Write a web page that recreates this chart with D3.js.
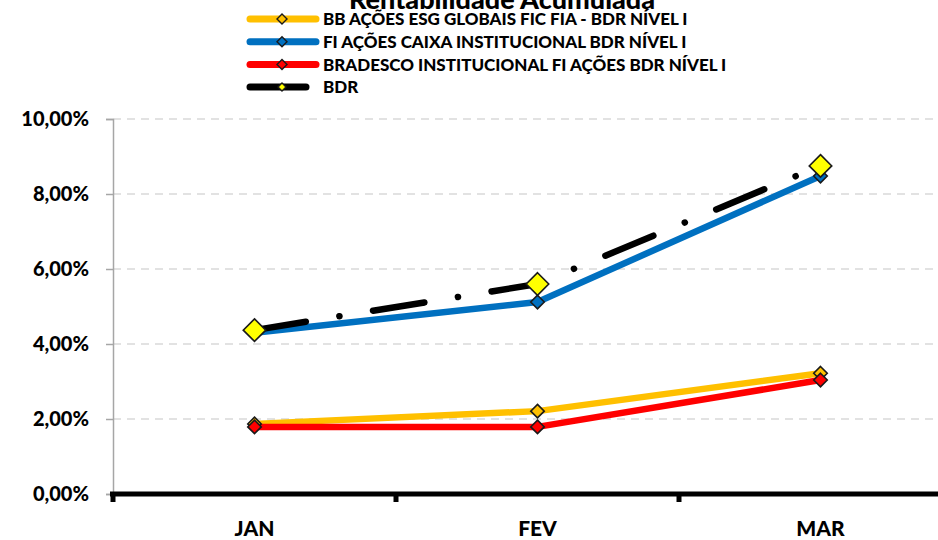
<!DOCTYPE html>
<html>
<head>
<meta charset="utf-8" />
<title>Rentabilidade Acumulada</title>
<style>
  html, body { margin: 0; padding: 0; background: #fff; }
  svg { display: block; font-family: Lato, "Liberation Sans", sans-serif; }
</style>
</head>
<body>
<svg width="938" height="540"></svg>
<script src="https://cdn.jsdelivr.net/npm/d3@7"></script>
<script>
// dados
var meses = ["JAN", "FEV", "MAR"];
var seriesNomes = [
  "BB AÇÕES ESG GLOBAIS FIC FIA - BDR NÍVEL I",
  "FI AÇÕES CAIXA INSTITUCIONAL BDR NÍVEL I",
  "BRADESCO INSTITUCIONAL FI AÇÕES BDR NÍVEL I",
  "BDR"
];
var bbEsg = [0.0187, 0.0221, 0.0322];
var caixa = [0.0430, 0.0512, 0.0848];
var bradesco = [0.0179, 0.0179, 0.0304];
var bdr = [0.0437, 0.0560, 0.0875];
var yTicks = [0, 0.02, 0.04, 0.06, 0.08, 0.10];

var series = [
  { nome: seriesNomes[0], valores: bbEsg, cor: "#FFC000", mk: "#FFC000", ms: 9 },
  { nome: seriesNomes[1], valores: caixa, cor: "#0070C0", mk: "#0070C0", ms: 9 },
  { nome: seriesNomes[2], valores: bradesco, cor: "#FF0000", mk: "#FF0000", ms: 9 },
  { nome: seriesNomes[3], valores: bdr, cor: "#000000", mk: "#FFFF00", ms: 15, dash: "52,34,0.1,34" }
];

var svg = d3.select("svg");

var x = d3.scaleBand().domain(meses).range([113, 962]);
var y = d3.scaleLinear().domain([0, 0.10]).range([494, 119]);
var fmt = function(v) { return d3.format(".2f")(v * 100).replace(".", ",") + "%"; };

// grade
svg.append("g").selectAll("line")
  .data(yTicks.slice(1))
  .enter().append("line")
  .attr("x1", 113).attr("x2", 938)
  .attr("y1", function(d) { return y(d); })
  .attr("y2", function(d) { return y(d); })
  .attr("stroke", "#d9d9d9")
  .attr("stroke-width", 1.5)
  .attr("stroke-dasharray", "8,6");

// eixo y
var yAxis = svg.append("g")
  .attr("transform", "translate(113,0)")
  .call(d3.axisLeft(y).tickValues(yTicks).tickFormat(fmt).tickSize(7).tickPadding(17));
yAxis.select(".domain").attr("stroke", "#a6a6a6").attr("stroke-width", 1.5);
yAxis.selectAll(".tick line").attr("stroke", "#a6a6a6").attr("stroke-width", 1.5);
yAxis.selectAll("text")
  .attr("font-size", 20).attr("font-weight", "900").attr("fill", "#000")
  .attr("font-family", "Lato, sans-serif");

// eixo x
var xAxis = svg.append("g")
  .attr("transform", "translate(0,494)")
  .call(d3.axisBottom(x).tickSize(0).tickPadding(27));
xAxis.select(".domain").remove();
xAxis.selectAll("text")
  .attr("font-size", 21).attr("font-weight", "900").attr("fill", "#000")
  .attr("font-family", "Lato, sans-serif");
svg.append("line")
  .attr("x1", 110).attr("x2", 938).attr("y1", 494).attr("y2", 494)
  .attr("stroke", "#000").attr("stroke-width", 5);
svg.append("g").selectAll("line")
  .data(meses)
  .enter().append("line")
  .attr("x1", function(d) { return x(d); })
  .attr("x2", function(d) { return x(d); })
  .attr("y1", 494).attr("y2", 502)
  .attr("stroke", "#000").attr("stroke-width", 5);

// linhas
var line = d3.line()
  .x(function(d, i) { return x(meses[i]) + x.bandwidth() / 2; })
  .y(function(d) { return y(d); });

var diamond = function(s) { return "M0," + (-s) + "L" + s + ",0L0," + s + "L" + (-s) + ",0Z"; };

series.forEach(function(s) {
  svg.append("path")
    .attr("d", line(s.valores))
    .attr("fill", "none")
    .attr("stroke", s.cor)
    .attr("stroke-width", 6.5)
    .attr("stroke-linecap", "round")
    .attr("stroke-linejoin", "round")
    .attr("stroke-dasharray", s.dash || null);
});
series.forEach(function(s) {
  svg.append("g").selectAll("path")
    .data(s.valores)
    .enter().append("path")
    .attr("transform", function(d, i) {
      return "translate(" + (x(meses[i]) + x.bandwidth() / 2) + "," + y(d) + ")";
    })
    .attr("d", diamond(s.ms * 0.75))
    .attr("fill", s.mk)
    .attr("stroke", "#1a1a1a")
    .attr("stroke-width", 1.6);
});

// titulo
svg.append("text")
  .attr("x", 502).attr("y", 9)
  .attr("text-anchor", "middle")
  .attr("font-size", 27).attr("font-weight", "900")
  .text("Rentabilidade Acumulada");

// legenda
var leg = svg.append("g").selectAll("g")
  .data(series)
  .enter().append("g")
  .attr("transform", function(d, i) { return "translate(0," + (19 + i * 22.7) + ")"; });
leg.append("line")
  .attr("x1", 250).attr("x2", function(d, i) { return i === 3 ? 306 : 316; })
  .attr("y1", 0).attr("y2", 0)
  .attr("stroke", function(d) { return d.cor; })
  .attr("stroke-width", 7)
  .attr("stroke-linecap", "round");
leg.append("path")
  .attr("transform", "translate(282,0)")
  .attr("d", function(d, i) { return diamond(i === 3 ? 4 : 5); })
  .attr("fill", function(d) { return d.mk; })
  .attr("stroke", "#1a1a1a")
  .attr("stroke-width", 1.4);
leg.append("text")
  .attr("x", 323).attr("y", 0).attr("dy", "0.36em")
  .attr("font-size", 17).attr("font-weight", "900")
  .text(function(d) { return d.nome; });
</script>
</body>
</html>
